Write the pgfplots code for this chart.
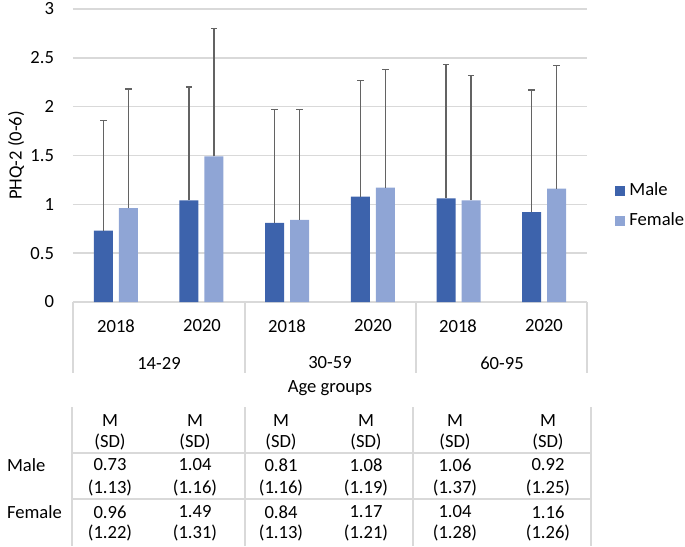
\documentclass[border=0pt]{standalone}
\usepackage{fontspec}
\setmainfont{Carlito}
\usepackage{pgfplots}
\usepackage{pgfplotstable}
\pgfplotsset{compat=1.18}
\definecolor{maleblue}{HTML}{3D63AC}
\definecolor{femaleblue}{HTML}{8FA5D5}
\definecolor{gridgray}{HTML}{D9D9D9}
\definecolor{errgray}{HTML}{636363}

% x: 0..5 = 14-29/2018, 14-29/2020, 30-59/2018, ...
\pgfplotstableread{
x m    msd  f    fsd
0 0.73 1.13 0.96 1.22
1 1.04 1.16 1.49 1.31
2 0.81 1.16 0.84 1.13
3 1.08 1.19 1.17 1.21
4 1.06 1.37 1.04 1.28
5 0.92 1.25 1.16 1.26
}\phqdata

% one column of the table under the chart (x in pt from the axis's left edge)
\newcommand{\tabcol}[5]{%
  \node at (#1,-59.5pt) {M};
  \node at (#1,-70pt)   {(SD)};
  \node at (#1,-81.5pt) {#2};
  \node at (#1,-93pt)   {(#3)};
  \node at (#1,-105pt)  {#4};
  \node at (#1,-115.5pt) {(#5)};
}

\begin{document}
\begin{tikzpicture}[font=\fontsize{9.3}{11}\selectfont]
\begin{axis}[
  scale only axis,
  width=257pt, height=146.5pt,
  ybar=3pt, bar width=9.5pt,
  xmin=-0.5, xmax=5.5,
  ymin=0, ymax=3,
  ytick={0,0.5,...,3},
  yticklabel style={xshift=-6pt},
  /pgf/number format/assume math mode=true,
  xtick=data,
  xticklabels={},
  tick style={draw=none},
  ymajorgrids,
  grid style={gridgray,line width=0.8pt},
  axis line style={draw=none},
  clip=false,
  legend style={at={(1,0.329)},anchor=west,xshift=14pt,draw=none,fill=none,
    inner sep=0pt,row sep=5pt,nodes={inner xsep=2pt,inner ysep=1pt}},
  legend image code/.code={\fill[#1] (0pt,-2.5pt) rectangle (5pt,2.5pt);},
  legend cell align=left,
]
\addplot[fill=maleblue,draw=none,
  error bars/.cd,y dir=plus,y explicit,
  error bar style={errgray,line width=0.75pt},
  error mark options={rotate=90,errgray,mark size=1.6pt,line width=0.75pt}]
  table[x=x,y=m,y error=msd] {\phqdata};
\addplot[fill=femaleblue,draw=none,
  error bars/.cd,y dir=plus,y explicit,
  error bar style={errgray,line width=0.75pt},
  error mark options={rotate=90,errgray,mark size=1.6pt,line width=0.75pt}]
  table[x=x,y=f,y error=fsd] {\phqdata};
\legend{Male,Female}
\end{axis}

% multi-level category axis
\begin{scope}[gridgray,line width=0.8pt]
\foreach \xx in {0pt,86pt,171.5pt,257pt} \draw (\xx,0) -- (\xx,-35.5pt);
\foreach \xx in {-0.5pt,86pt,170pt,259pt} \draw (\xx,-52.5pt) -- (\xx,-122pt);
\draw (-0.5pt,-75.5pt) -- (259pt,-75.5pt);
\draw (-0.5pt,-98.5pt) -- (259pt,-98.5pt);
\end{scope}
\foreach \xx in {21.5pt,107pt,192.5pt} \node at (\xx,-12pt) {2018};
\foreach \xx in {64.5pt,150pt,235.5pt} \node at (\xx,-12pt) {2020};
\node at (43pt,-30.5pt) {14-29};
\node at (128.5pt,-30.5pt) {30-59};
\node at (214.5pt,-30.5pt) {60-95};
\node at (128.5pt,-43pt) {Age groups};

% table
\tabcol{18.5pt}{0.73}{1.13}{0.96}{1.22}
\tabcol{61pt}{1.04}{1.16}{1.49}{1.31}
\tabcol{104pt}{0.81}{1.16}{0.84}{1.13}
\tabcol{146.5pt}{1.08}{1.19}{1.17}{1.21}
\tabcol{191pt}{1.06}{1.37}{1.04}{1.28}
\tabcol{237.5pt}{0.92}{1.25}{1.16}{1.26}
\node[anchor=west] at (-36.5pt,-81.5pt) {Male};
\node[anchor=west] at (-36.5pt,-105pt) {Female};
\node[rotate=90] at (-28.5pt,73.25pt) {PHQ-2 (0-6)};
\pgfresetboundingbox
\useasboundingbox (-36.5pt,-122pt) rectangle (306pt,151pt);
\end{tikzpicture}
\end{document}
